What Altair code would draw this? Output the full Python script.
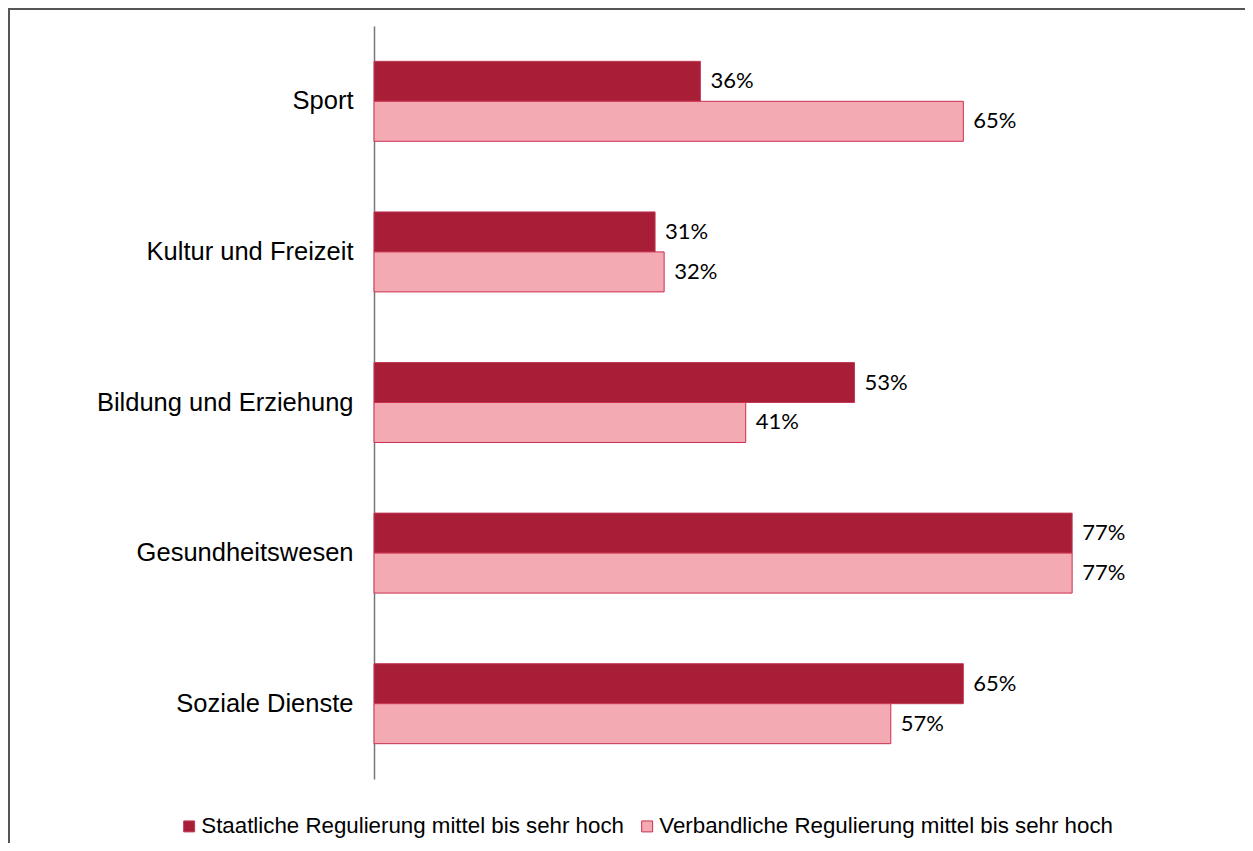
import altair as alt
import pandas as pd

categories = ["Sport", "Kultur und Freizeit", "Bildung und Erziehung", "Gesundheitswesen", "Soziale Dienste"]
series = ["Staatliche Regulierung mittel bis sehr hoch", "Verbandliche Regulierung mittel bis sehr hoch"]
staatlich = [36, 31, 53, 77, 65]
verbandlich = [65, 32, 41, 77, 57]
colors = ["#A81E37", "#F4AAB3"]
strokes = ["#C03A55", "#C8304E"]

rows = []
for c, a, b in zip(categories, staatlich, verbandlich):
    rows.append({"cat": c, "series": series[0], "value": a, "label": f"{a}%"})
    rows.append({"cat": c, "series": series[1], "value": b, "label": f"{b}%"})
df = pd.DataFrame(rows)

y_enc = alt.Y("cat:N", sort=categories,
              scale=alt.Scale(paddingInner=0.469, paddingOuter=0.2345),
              axis=alt.Axis(title=None, ticks=False, grid=False, labelFontSize=25.5,
                            labelFont="Liberation Sans", labelColor="black",
                            labelPadding=21, domainColor="#777777", domainWidth=1.5,
                            labelLimit=400))
yoff = alt.YOffset("series:N", sort=series, scale=alt.Scale(paddingInner=0, paddingOuter=0))
x_enc = alt.X("value:Q", scale=alt.Scale(domain=[0, 90], nice=False, zero=True), axis=None)

base = alt.Chart(df)

bars = base.mark_bar(strokeWidth=1).encode(
    x=x_enc,
    y=y_enc,
    yOffset=yoff,
    color=alt.Color("series:N", sort=series,
                    scale=alt.Scale(domain=series, range=colors),
                    legend=alt.Legend(title=None, orient="none", legendX=-196, legendY=789,
                                      direction="horizontal", symbolType="square",
                                      symbolSize=120, symbolStrokeWidth=1,
                                      labelFont="Liberation Sans", labelFontSize=22.3,
                                      labelColor="black", labelLimit=600,
                                      columnPadding=12, symbolOffset=0, labelOffset=1)),
    stroke=alt.Stroke("series:N", sort=series,
                      scale=alt.Scale(domain=series, range=strokes), legend=None),
)

labels = base.mark_text(align="left", baseline="middle", dx=10, font="Lato",
                        fontSize=22, color="black").encode(
    x=x_enc,
    y=alt.Y("cat:N", sort=categories),
    yOffset=yoff,
    text="label:N",
)

frame = alt.Chart(pd.DataFrame({"a": [0]})).mark_rect(
    fill="transparent", stroke="#555555", strokeWidth=2
).encode(x=alt.value(-365), x2=alt.value(1200), y=alt.value(-17), y2=alt.value(1200))

chart = alt.layer(frame, bars, labels).properties(
    width=816, height=753,
    background="white",
    padding={"left": 366, "top": 18, "right": 55, "bottom": 64},
    autosize=alt.AutoSizeParams(type="none"),
).configure_view(strokeWidth=0)

chart.save("out.html", embed_options={"renderer": "svg", "actions": False})
